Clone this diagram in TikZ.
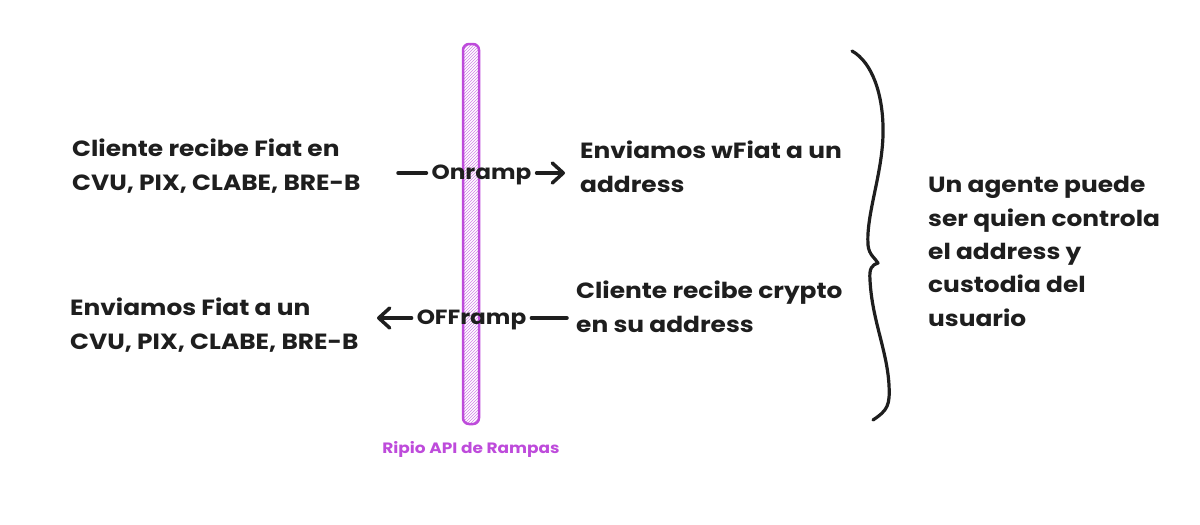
\documentclass[tikz,border=0pt]{standalone}
\usepackage{fontspec}
\setmainfont{Poppins}[FakeStretch=1.13]
\usetikzlibrary{arrows.meta,patterns}
\definecolor{ink}{HTML}{1E1E1E}
\definecolor{violet}{HTML}{BE4BDB}
\tikzset{
  blocktext/.style={anchor=base west, align=left, inner sep=0pt, text=ink,
    font=\fontsize{22}{33.3}\selectfont\bfseries},
  arrlabel/.style={anchor=base, inner sep=5pt, text=ink, font=\fontsize{20.5}{24}\selectfont\bfseries},
  flow/.style={draw=ink, line width=3.5pt, line cap=round},
  flowtip/.style={flow, -{Straight Barb[length=11pt,width=20pt,line cap=round,line join=round]}},
  barbox/.style={draw=violet, line width=2.5pt, rounded corners=6pt,
    pattern=north east lines, pattern color=violet!70, minimum width=16pt, minimum height=380pt},
  barlabel/.style={inner sep=0pt, text=violet, font=\fontsize{15}{18}\selectfont\bfseries},
}
\begin{document}
\begin{tikzpicture}[x=1pt,y=-1pt]
\useasboundingbox (0,0) rectangle (1200,525);
% bar
\node[barbox] (bar) at (471,234) {};
\node[barlabel] (barlab) at (471,449) {Ripio API de Rampas};
% text blocks (anchor = baseline of the last line)
\node[blocktext] (inL) at (72,190) {Cliente recibe Fiat en\\CVU, PIX, CLABE, BRE-B};
\node[blocktext] (inR) at (580,192) {Enviamos wFiat a un\\address};
\node[blocktext] (outL) at (70,349) {Enviamos Fiat a un\\CVU, PIX, CLABE, BRE-B};
\node[blocktext] (outR) at (576,332) {Cliente recibe crypto\\en su address};
\node[blocktext] (note) at (928,326) {Un agente puede\\ser quien controla\\el address y\\custodia del\\usuario};
% onramp
\coordinate (onS) at (398,173);
\coordinate (onE) at (565,173);
\node[arrlabel] (onlab) at (481.5,179) {Onramp};
\draw[flow] (onS) -- (onS -| onlab.west);
\draw[flowtip] (onE -| onlab.east) -- (onE);
% offramp
\coordinate (offS) at (567,318);
\coordinate (offE) at (377,318);
\node[arrlabel] (offlab) at (471.5,324) {OFFramp};
\draw[flow] (offS) -- (offS -| offlab.east);
\draw[flowtip] (offE -| offlab.west) -- (offE);
% brace
\coordinate (brT) at (852,51);
\coordinate (brM) at (878,263);
\coordinate (brB) at (873,420);
\draw[flow, line width=3.2pt, line join=round]
  (brT) .. controls (872,62) and (884,95) .. (883,135)
  .. controls (882,175) and (866,215) .. (868,245)
  .. controls (869,255) and (875,258) .. (brM)
  .. controls (872,265) and (869,268) .. (870,280)
  .. controls (872,320) and (887,350) .. (889,385)
  .. controls (890,405) and (888,410) .. (brB);
\end{tikzpicture}
\end{document}
